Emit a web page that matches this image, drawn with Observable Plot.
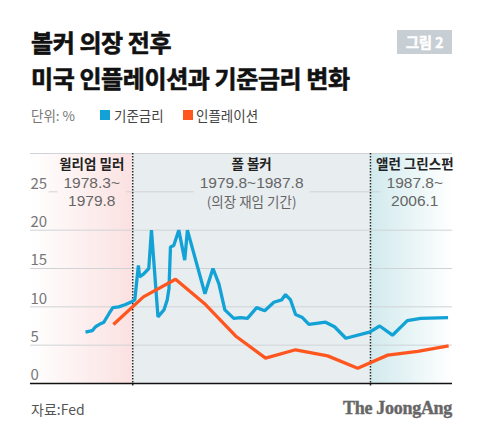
<!DOCTYPE html>
<html><head><meta charset="utf-8">
<script src="https://cdn.jsdelivr.net/npm/d3@7"></script>
<script src="https://cdn.jsdelivr.net/npm/@observablehq/plot@0.6"></script>
<style>
body{margin:0;background:#fff;font-family:"Noto Sans CJK KR","Noto Sans",sans-serif;}
#wrap{position:relative;width:480px;height:436px;overflow:hidden;background:#fff}
.t{position:absolute;left:31px;font-size:24px;font-weight:700;color:#111;letter-spacing:-0.4px;white-space:nowrap;line-height:24px;-webkit-text-stroke:0.6px #111}
#t1{top:30px}
#t2{top:66px}
#badge{position:absolute;left:397px;top:30px;width:55px;height:24px;background:#c7ced4;color:#fff;font-size:14.5px;font-weight:700;text-align:center;line-height:24px;letter-spacing:-0.3px;-webkit-text-stroke:0.4px #fff}
.lg{position:absolute;top:106px;font-size:13.5px;line-height:18px;white-space:nowrap}
.sq{position:absolute;top:110px;width:10px;height:10px}
#chart{position:absolute;left:0;top:140px}
#src{position:absolute;left:31px;top:400px;font-size:14px;line-height:18px;color:#555}
#logo{position:absolute;right:28px;top:398px;font-family:"Liberation Serif","DejaVu Serif",serif;font-weight:700;font-size:18px;line-height:20px;color:#666;letter-spacing:-0.3px;-webkit-text-stroke:0.4px #666}
</style></head>
<body>
<div id="wrap">
  <div class="t" id="t1">볼커 의장 전후</div>
  <div class="t" id="t2">미국 인플레이션과 기준금리 변화</div>
  <div id="badge">그림 2</div>
  <div class="lg" style="left:31px;color:#777">단위: %</div>
  <div class="sq" style="left:100px;background:#12a2d6"></div>
  <div class="lg" style="left:114px;color:#444">기준금리</div>
  <div class="sq" style="left:183px;background:#ff5620"></div>
  <div class="lg" style="left:196px;color:#444">인플레이션</div>
  <div id="chart"></div>
  <div id="src">자료:Fed</div>
  <div id="logo">The JoongAng</div>
</div>
<script>
// Fed funds rate (기준금리), date as decimal year
const rateDates = [1977.99,1978.22,1978.33,1978.50,1978.61,1978.78,1978.91,1979.11,1979.34,1979.56,1979.65,1979.77,1979.81,1979.95,1980.12,1980.21,1980.43,1980.63,1980.74,1980.80,1980.85,1980.96,1981.13,1981.33,1981.42,1982.01,1982.28,1982.48,1982.68,1982.98,1983.21,1983.44,1983.75,1984.02,1984.33,1984.59,1984.72,1984.89,1985.06,1985.29,1985.51,1986.07,1986.37,1986.75,1987.55,1987.89,1988.32,1988.82,1989.27,1990.19];
const rateValues = [6.7,6.9,7.4,7.8,8.0,9.1,9.9,10.0,10.3,10.7,10.9,15.4,13.9,14.3,15.0,20.0,8.7,9.6,10.9,12.4,17.8,18.0,20.0,16.1,20.0,11.7,15.0,13.0,9.6,8.5,8.6,8.5,9.9,9.5,10.6,10.9,11.6,10.9,9.0,8.6,7.7,8.0,7.4,5.9,6.7,7.5,6.3,8.2,8.5,8.6];
// Inflation (인플레이션)
const inflDates = [1978.93,1979.94,1981.02,1982.03,1983.04,1984.05,1985.06,1986.14,1987.15,1988.16,1989.17,1990.21];
const inflValues = [7.7,11.3,13.6,10.3,6.2,3.3,4.4,3.6,2.0,3.7,4.2,4.9];
const yTicks = [0,5,10,15,20,25];
const gridValues = [5,10,15,20,25,30];
const xDomain = [1976.14, 1990.34];
const boundaries = [1979.58, 1987.58]; // 1979.8, 1987.8
const periodNames = ["윌리엄 밀러","폴 볼커","앨런 그린스펀"];
const periodLine1 = ["1978.3~","1979.8~1987.8","1987.8~"];
const periodLine2 = ["1979.8","(의장 재임 기간)","2006.1"];
const labelDates = [1978.2, 1983.58, 1989.07];

const BLUE = "#12a2d6", ORANGE = "#ff5620";
const FONT = '"Noto Sans CJK KR","Noto Sans",sans-serif';
const NUMFONT = '"Liberation Sans","Noto Sans CJK KR",sans-serif';
const bandEdges = [xDomain[0], ...boundaries, xDomain[1]];
const bandFills = ["url(#gMiller)", "#e8edf0", "url(#gGreen)"];

const rate = rateDates.map((d,i)=>({x:d, y:rateValues[i]}));
const infl = inflDates.map((d,i)=>({x:d, y:inflValues[i]}));
const periods = periodNames.map((n,i)=>({name:n, l1:periodLine1[i], l2:periodLine2[i], x:labelDates[i]}));

const marks = [];
bandFills.forEach((f,i)=>{
  marks.push(Plot.rect([{x1:bandEdges[i], x2:bandEdges[i+1]}], {x1:"x1", x2:"x2", y1:0, y2:30, fill:f}));
});
marks.push(Plot.ruleY(gridValues, {stroke:"#cfd3d6", strokeWidth:1}));
periods.forEach((p,i)=>{
  const hangul = /[가-힣]/.test(p.l2);
  marks.push(Plot.text([p], {x:"x", text:"l1", frameAnchor:"top", dy:30, lineAnchor:"middle", fontSize:15.5, fontFamily:NUMFONT, fill:"#666"}));
  marks.push(Plot.text([p], {x:"x", text:"l2", frameAnchor:"top", dy: hangul ? 49 : 48, lineAnchor:"middle", fontSize: hangul ? 13.5 : 15.5, fontFamily: hangul ? FONT : NUMFONT, fill:"#666"}));
  marks.push(Plot.text([p], {x:"x", text:"name", frameAnchor:"top", dy:11, lineAnchor:"middle", fontSize:13.5, fontWeight:700, fill:"#222"}));
});
marks.push(Plot.text(yTicks, {y:d=>d, text:d=>String(d), frameAnchor:"left", textAnchor:"start", lineAnchor:"middle", dy:-8, fontSize:15, fill:"#777"}));
marks.push(Plot.ruleX(boundaries, {stroke:"#2a2a2a", strokeWidth:1.5, strokeDasharray:"1.5,1.5", insetBottom:-3}));
marks.push(Plot.ruleY([0], {stroke:"#111", strokeWidth:1.5}));
marks.push(Plot.line(rate, {x:"x", y:"y", stroke:BLUE, strokeWidth:3.3, strokeLinejoin:"miter", strokeLinecap:"butt"}));
marks.push(Plot.line(infl, {x:"x", y:"y", stroke:ORANGE, strokeWidth:3.3, strokeLinejoin:"miter", strokeLinecap:"butt"}));

const svg = Plot.plot({
  width: 480, height: 256,
  marginLeft: 30, marginRight: 28, marginTop: 13, marginBottom: 13,
  x: {domain: xDomain, axis: null},
  y: {domain: [0, 30], axis: null},
  style: {fontFamily: FONT, background: "transparent", overflow: "visible"},
  marks
});

const xs = svg.scale("x"), ys = svg.scale("y");
const NS = "http://www.w3.org/2000/svg";
// gradient definitions for the shaded bands (user space)
const defs = document.createElementNS(NS, "defs");
function grad(id, from, to, stops){
  const g = document.createElementNS(NS, "linearGradient");
  g.setAttribute("id", id); g.setAttribute("gradientUnits", "userSpaceOnUse");
  g.setAttribute("x1", xs.apply(from)); g.setAttribute("x2", xs.apply(to)); g.setAttribute("y1", 0); g.setAttribute("y2", 0);
  stops.forEach(([o,c])=>{const s=document.createElementNS(NS,"stop"); s.setAttribute("offset",o); s.setAttribute("stop-color",c); g.appendChild(s);});
  defs.appendChild(g);
}
grad("gMiller", bandEdges[0], bandEdges[1], [[0,"#ffffff"],[1,"#fbe1e1"]]);
grad("gGreen", bandEdges[2], bandEdges[3], [[0,"#d1eaed"],[1,"#ffffff"]]);
svg.insertBefore(defs, svg.firstChild);
document.getElementById("chart").appendChild(svg);

// the 25 gridline is interrupted behind the labels that sit on it
try {
  const y25 = ys.apply(25);
  const sr = svg.getBoundingClientRect();
  const texts = Array.from(svg.querySelectorAll("text"));
  const knock = document.createElementNS(NS, "g");
  const addKnock = (x0, x1, fill) => {
    const r = document.createElementNS(NS, "rect");
    r.setAttribute("x", x0); r.setAttribute("width", Math.max(0, x1 - x0));
    r.setAttribute("y", y25 - 2); r.setAttribute("height", 4); r.setAttribute("fill", fill);
    knock.appendChild(r);
  };
  const fx0 = xs.apply(bandEdges[0]), fx1 = xs.apply(bandEdges[3]);
  let firstGroup = null;
  periods.forEach((p,i)=>{
    const t = texts.find(e => e.textContent === p.l1);
    if (!t) return;
    if (!firstGroup) firstGroup = t.parentNode;
    const r = t.getBoundingClientRect(); const pad = 6;
    const a = Math.max(fx0, r.left - sr.left - pad);
    const b = i === 2 ? fx1 : Math.min(fx1, r.right - sr.left + pad);
    addKnock(a, b, bandFills[i]);
  });
  const t25 = texts.find(e => e.textContent === "25");
  if (t25) { const r = t25.getBoundingClientRect(); addKnock(fx0, r.right - sr.left + 1.5, bandFills[0]); }
  if (firstGroup) firstGroup.parentNode.insertBefore(knock, firstGroup);
} catch (e) { console.log(e); }
</script>
</body></html>
